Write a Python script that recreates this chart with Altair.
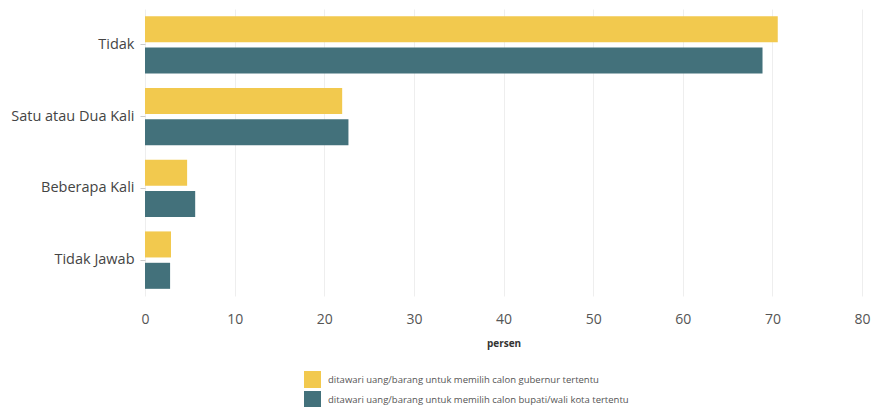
import altair as alt
import pandas as pd

categories = ["Tidak", "Satu atau Dua Kali", "Beberapa Kali", "Tidak Jawab"]
series = [
    "ditawari uang/barang untuk memilih calon gubernur tertentu",
    "ditawari uang/barang untuk memilih calon bupati/wali kota tertentu",
]
gubernur = [70.6, 22.0, 4.7, 2.9]
bupati = [68.9, 22.7, 5.6, 2.8]
colors = ["#F2C94E", "#43717B"]

rows = []
for c, g, b in zip(categories, gubernur, bupati):
    rows.append({"kategori": c, "seri": series[0], "persen": g})
    rows.append({"kategori": c, "seri": series[1], "persen": b})
df = pd.DataFrame(rows)

font = "Open Sans"

chart = alt.Chart(df).mark_bar(opacity=1).encode(
    x=alt.X("persen:Q", title="persen",
            scale=alt.Scale(domain=[0, 80], nice=False),
            axis=alt.Axis(values=[0, 10, 20, 30, 40, 50, 60, 70, 80], domain=False, ticks=False,
                          labelFlush=False,
                          labelPadding=16, labelFontSize=14, labelColor="#555",
                          titleFontSize=10, titleFontWeight="bold", titleColor="#333",
                          titlePadding=12, gridColor="#eeeeee", labelFont=font, titleFont=font)),
    y=alt.Y("kategori:N", sort=categories, title=None,
            scale=alt.Scale(paddingInner=0.2, paddingOuter=0.1),
            axis=alt.Axis(domain=False, ticks=True, tickSize=5, tickColor="#ccc", labelPadding=6,
                          labelFontSize=14.5, labelColor="#444", labelFont=font, grid=False)),
    yOffset=alt.YOffset("seri:N", sort=series, scale=alt.Scale(paddingInner=0.17)),
    color=alt.Color("seri:N", sort=series, title=None,
                    scale=alt.Scale(domain=series, range=colors),
                    legend=alt.Legend(orient="none", legendX=158, legendY=361, symbolType="square",
                                      symbolSize=289, symbolOpacity=1, labelFontSize=9.5, labelColor="#555",
                                      labelFont=font, rowPadding=2, labelLimit=600, labelOffset=6)),
).properties(
    width=717, height=287,
    autosize=alt.AutoSizeParams(type="none"),
    padding={"left": 137, "top": 1, "right": 13, "bottom": 111},
).configure_view(strokeWidth=0)

chart.save("out.html", embed_options={"renderer": "svg", "actions": False})
